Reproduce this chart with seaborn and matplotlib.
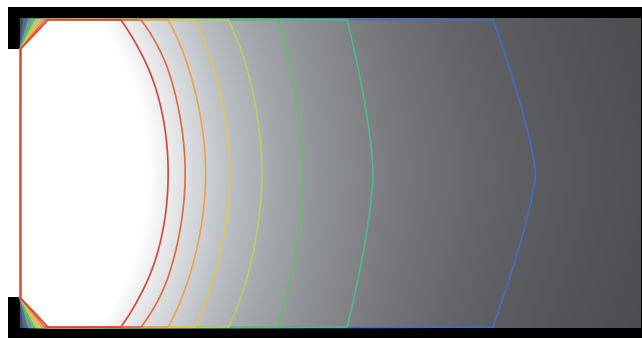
import numpy as np
import matplotlib
matplotlib.use("Agg")
import matplotlib.pyplot as plt
import seaborn as sns

# Plate geometry (mm)
plate_length = 620
plate_height = 309
heater_span = [31, 278]      # heated stretch of the left edge
heater_depth = 12            # heater block drawn to the left of the plate

# Isotherm levels (normalised temperature) and their colours, coldest first
levels = [0.096, 0.201, 0.276, 0.333, 0.385, 0.430, 0.472, 0.510]
level_colors = ["#3d6fc4", "#4fb98a", "#63bd62", "#b0d35f",
                "#e6c64f", "#efa24a", "#e46a3c", "#dc4536"]

# Decay length of the temperature profile along the plate (mm)
decay_length = 220
# Lag of the isotherms towards the cold top/bottom edges (mm) and the
# exponent of that lag across the height, given along the plate (mm)
lag_x = [100, 120, 147, 175, 208, 257, 327, 472]
lag_mm = [48, 45, 38, 35, 34, 26, 26, 43]
lag_exp = [2.0, 2.0, 2.0, 1.9, 1.9, 1.8, 1.6, 1.3]
# Temperature reached at the heater corners, where the isotherms fan out
corner_peak = 0.535

# ---- temperature field -------------------------------------------------
x = np.arange(-heater_depth, plate_length + 1)
y = np.arange(0, plate_height + 1)
X, Y = np.meshgrid(x, y)
Xc = np.clip(X, 0, None).astype(float)
eta = np.abs(Y - plate_height / 2) / (plate_height / 2)
lag = np.interp(Xc, lag_x, lag_mm)
expo = np.interp(Xc, lag_x, lag_exp)
T = np.exp(-(Xc + lag * eta ** expo) / decay_length)

# corner fans above and below the heated stretch
y_lo, y_hi = heater_span
top_fan = (X >= 0) & ((Y - y_hi) > X)
theta = np.arctan2(X, Y - y_hi)
T[top_fan] = corner_peak * theta[top_fan] / (np.pi / 4)
bot_fan = (X >= 0) & ((y_lo - Y) > X)
theta = np.arctan2(X, y_lo - Y)
T[bot_fan] = corner_peak * theta[bot_fan] / (np.pi / 4)

# heater block: hot inside its span, empty elsewhere
heater = X < 0
T[heater] = np.where((Y[heater] >= y_lo) & (Y[heater] <= y_hi), 1.0, np.nan)

# field used for the isotherms: cold outer boundary of the plate
plate_cols = x >= 0
Tc = T[:, plate_cols].copy()
Tc[0, :] = 0.0
Tc[-1, :] = 0.0
Tc[:, 0] = 0.0

# ---- drawing -----------------------------------------------------------
sns.set_theme(style="white")
gray_map = sns.blend_palette(["#494b4e", "#838588", "#bcc1c6", "#ffffff"],
                             as_cmap=True)
gray_map.set_bad((0, 0, 0, 0))

fig = plt.figure(figsize=(6.42, 3.38), dpi=100)
fig.patch.set_facecolor("white")
ax = fig.add_axes([8 / 642, 0.0, 634 / 642, 331 / 338])
ax.set_facecolor("black")

ax.imshow(T, cmap=gray_map, vmin=0.04, vmax=0.56, origin="lower",
          extent=[x[0] - 0.5, x[-1] + 0.5, y[0] - 0.5, y[-1] + 0.5],
          interpolation="bilinear", aspect="auto")
ax.contour(x[plate_cols], y, Tc, levels=levels, colors=level_colors,
           linewidths=1.2)

ax.set_xlim(-heater_depth, plate_length + 2)
ax.set_ylim(-10, plate_height + 12)
ax.set_xticks([])
ax.set_yticks([])
for sp in ax.spines.values():
    sp.set_visible(False)

fig.savefig("out.png", dpi=100, facecolor="white")
